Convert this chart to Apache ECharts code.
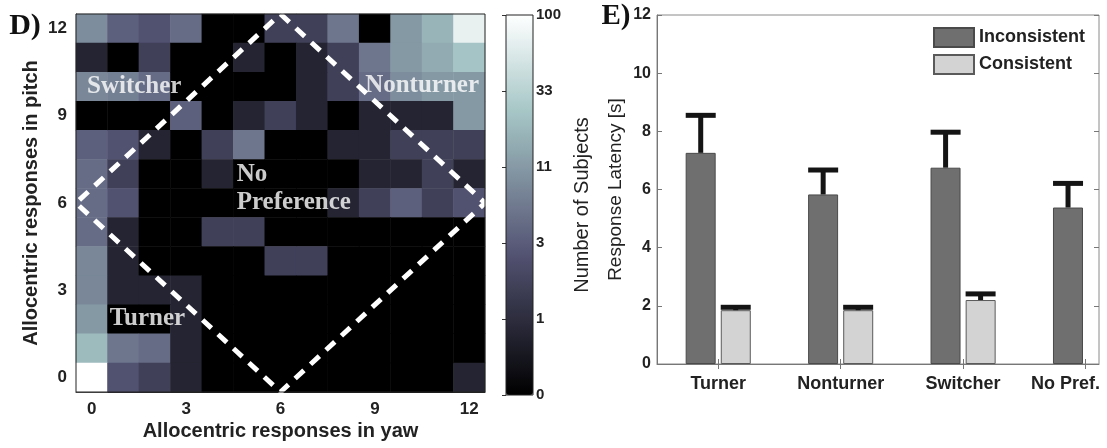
<!DOCTYPE html>
<html><head><meta charset="utf-8">
<script src="https://cdn.jsdelivr.net/npm/echarts@6/dist/echarts.min.js"></script>
<style>html,body{margin:0;padding:0;background:#fff}#c{width:1107px;height:448px}</style>
</head><body><div id="c"></div>
<script>
// ---------- Panel D: heatmap (number of subjects) ----------
const yawCategories = ['0','1','2','3','4','5','6','7','8','9','10','11','12'];
const pitchCategories = ['0','1','2','3','4','5','6','7','8','9','10','11','12'];
// counts per yaw (0..12) for each pitch row
const pitch12 = [9, 4, 3, 5, 0, 0, 2, 2, 6, 0, 11, 18, 70];
const pitch11 = [1, 0, 2, 0, 0, 1, 0, 1, 2, 6, 11, 15, 24];
const pitch10 = [8, 7, 5, 0, 0, 0, 0, 1, 2, 5, 9, 11, 11];
const pitch9  = [0, 0, 0, 4, 0, 1, 2, 1, 0, 1, 1, 1, 11];
const pitch8  = [4, 3, 1, 0, 2, 6, 0, 0, 1, 1, 2, 2, 2];
const pitch7  = [5, 2, 0, 0, 1, 0, 0, 0, 0, 1, 1, 2, 1];
const pitch6  = [5, 3, 0, 0, 0, 0, 0, 0, 1, 2, 4, 2, 3];
const pitch5  = [5, 1, 0, 0, 2, 2, 0, 0, 0, 0, 0, 0, 0];
const pitch4  = [8, 1, 0, 0, 0, 0, 2, 2, 0, 0, 0, 0, 0];
const pitch3  = [8, 1, 1, 1, 0, 0, 0, 0, 0, 0, 0, 0, 0];
const pitch2  = [11, 0, 0, 1, 0, 0, 0, 0, 0, 0, 0, 0, 0];
const pitch1  = [20, 6, 5, 1, 0, 0, 0, 0, 0, 0, 0, 0, 0];
const pitch0  = [100, 3, 2, 1, 0, 0, 0, 0, 0, 0, 0, 0, 1];
const colorbarTicks = ['0', '1', '3', '11', '33', '100'];
// region boundary (yaw, pitch) and region names
const diamondVertices = [[6, 12.5], [12.5, 6], [6, -0.5], [-0.5, 6], [6, 12.5]];
const regionNames = ['Switcher', 'Nonturner', 'No\nPreference', 'Turner'];
const regionYaw = [1.35, 10.5, 4.59, 1.77];
const regionPitch = [10.0, 10.05, 6.48, 2.04];

// ---------- Panel E: response latency ----------
const groups = ['Turner', 'Nonturner', 'Switcher', 'No Pref.'];
const inconsistentMean = [7.26, 5.83, 6.75, 5.38];
const inconsistentUpper = [8.55, 6.67, 7.97, 6.21];
const consistentMean = [1.85, 1.85, 2.2, null];
const consistentUpper = [1.95, 1.95, 2.41, null];

// ---------- build ----------
const rowsTopDown = [pitch12, pitch11, pitch10, pitch9, pitch8, pitch7, pitch6, pitch5, pitch4, pitch3, pitch2, pitch1, pitch0];
function level(c) { return c <= 0 ? 0 : Math.max(0, Math.log(c / 100) / Math.log(3) + 5); }
const heatData = [];
rowsTopDown.forEach((row, r) => {
  const p = rowsTopDown.length - 1 - r;
  row.forEach((c, y) => heatData.push([y, p, level(c)]));
});
const bone = ['#000000','#1c1c27','#38384d','#545474','#707a8f','#8ba1ab','#a7c7c7','#d3e3e3','#ffffff'];

function errSeries(mean, upper, offset) {
  const data = [];
  groups.forEach((g, i) => { if (mean[i] != null) data.push([i + 1, mean[i], upper[i]]); });
  return {
    type: 'custom', xAxisIndex: 3, yAxisIndex: 3, z: 10, data: data,
    renderItem: function (params, api) {
      const p0 = api.coord([api.value(0), api.value(1)]);
      const p1 = api.coord([api.value(0), api.value(2)]);
      const cx = p0[0] + offset;
      return { type: 'group', children: [
        { type: 'line', shape: { x1: cx, y1: p0[1], x2: cx, y2: p1[1] }, style: { stroke: '#141414', lineWidth: 5 } },
        { type: 'line', shape: { x1: cx - 15, y1: p1[1], x2: cx + 15, y2: p1[1] }, style: { stroke: '#141414', lineWidth: 5 } }
      ]};
    }
  };
}

const tickFont = { color: '#222', fontWeight: 'bold', fontFamily: 'Liberation Sans, Arial, sans-serif' };
const chart = echarts.init(document.getElementById('c'), null, { renderer: 'canvas' });
chart.setOption({
  animation: false,
  backgroundColor: '#fff',
  graphic: [
    { type: 'text', x: 25, y: 26, style: { text: 'D)', font: 'bold 30px "Liberation Serif", serif', fill: '#111', textAlign: 'center', textVerticalAlign: 'middle' } },
    { type: 'text', x: 616, y: 17, style: { text: 'E)', font: 'bold 29px "Liberation Serif", serif', fill: '#111', textAlign: 'center', textVerticalAlign: 'middle' } }
  ],
  grid: [
    { left: 76, top: 14, width: 409, height: 378, outerBoundsMode: 'none', show: true, borderColor: '#222', borderWidth: 1, z: 8 },
    { left: 76, top: 14, width: 409, height: 378, outerBoundsMode: 'none' },
    { left: 506, top: 15, width: 27, height: 380, outerBoundsMode: 'none', show: true, borderColor: '#222', borderWidth: 1, z: 8 },
    { left: 657, top: 15, width: 442, height: 349, outerBoundsMode: 'none', show: true, borderColor: '#8a8a8a', borderWidth: 1 }
  ],
  xAxis: [
    { gridIndex: 0, type: 'category', data: yawCategories, boundaryGap: true,
      axisLine: { lineStyle: { color: '#222' } }, axisTick: { show: false },
      axisLabel: Object.assign({ interval: 2, fontSize: 17, margin: 9 }, tickFont),
      name: 'Allocentric responses in yaw', nameLocation: 'middle', nameGap: 29, nameMoveOverlap: false,
      nameTextStyle: { fontSize: 20, fontWeight: 'bold', color: '#222', fontFamily: 'Liberation Sans, Arial, sans-serif' } },
    { gridIndex: 1, type: 'value', min: -0.5, max: 12.5, show: false },
    { gridIndex: 2, type: 'value', min: 0, max: 1, show: false },
    { gridIndex: 3, type: 'value', min: 0.5, max: 4.11, splitLine: { show: false },
      axisLine: { lineStyle: { color: '#777' } },
      axisTick: { customValues: [1, 2, 3, 4], inside: true, length: 5, lineStyle: { color: '#777' } },
      axisLabel: Object.assign({ customValues: [1, 2, 3, 4], fontSize: 18, margin: 11,
        formatter: function (v) { const i = Math.round(v) - 1; return i === groups.length - 1 ? '{shift|' + groups[i] + '}' : groups[i]; },
        rich: { shift: { padding: [0, 40, 0, 0], fontSize: 18, fontWeight: 'bold', color: '#222', fontFamily: 'Liberation Sans, Arial, sans-serif' } } }, tickFont) },
    { gridIndex: 3, type: 'value', min: 0.5, max: 4.11, position: 'top', splitLine: { show: false },
      axisLine: { show: false }, axisLabel: { show: false },
      axisTick: { customValues: [1, 2, 3, 4], inside: true, length: 5, lineStyle: { color: '#777' } } }
  ],
  yAxis: [
    { gridIndex: 0, type: 'category', data: pitchCategories, boundaryGap: true,
      axisLine: { lineStyle: { color: '#222' } }, axisTick: { show: false },
      axisLabel: Object.assign({ interval: 2, fontSize: 17, margin: 9 }, tickFont),
      name: 'Allocentric responses in pitch', nameLocation: 'middle', nameGap: 35, nameMoveOverlap: false,
      nameTextStyle: { fontSize: 20, fontWeight: 'bold', color: '#222', fontFamily: 'Liberation Sans, Arial, sans-serif' } },
    { gridIndex: 1, type: 'value', min: -0.5, max: 12.5, show: false },
    { gridIndex: 2, type: 'value', min: 0, max: 5, interval: 1, position: 'right', splitLine: { show: false },
      axisLine: { show: false }, axisTick: { inside: true, length: 4, lineStyle: { color: '#333' } },
      axisLabel: Object.assign({ fontSize: 15, margin: 3, formatter: function (v) { return colorbarTicks[Math.round(v)]; } }, tickFont),
      name: 'Number of Subjects', nameLocation: 'middle', nameRotate: 90, nameGap: 39, nameMoveOverlap: false,
      nameTextStyle: { fontSize: 20, color: '#222', fontFamily: 'Liberation Sans, Arial, sans-serif' } },
    { gridIndex: 3, type: 'value', min: 0, max: 12, interval: 2, splitLine: { show: false },
      axisLine: { lineStyle: { color: '#777' } }, axisTick: { inside: true, length: 5, lineStyle: { color: '#777' } },
      axisLabel: Object.assign({ fontSize: 16, margin: 6 }, tickFont),
      name: 'Response Latency [s]', nameLocation: 'middle', nameGap: 32, nameMoveOverlap: false,
      nameTextStyle: { fontSize: 19, color: '#222', fontFamily: 'Liberation Sans, Arial, sans-serif' } },
    { gridIndex: 3, type: 'value', min: 0, max: 12, interval: 2, position: 'right', splitLine: { show: false },
      axisLine: { show: false }, axisLabel: { show: false },
      axisTick: { inside: true, length: 5, lineStyle: { color: '#777' } } }
  ],
  visualMap: {
    type: 'continuous', min: 0, max: 5, seriesIndex: 0, dimension: 2, calculable: false, hoverLink: false,
    inRange: { color: bone }, left: 506, top: 15, itemWidth: 27, itemHeight: 380, padding: 0, text: null
  },
  legend: {
    data: ['Inconsistent', 'Consistent'], orient: 'vertical', left: 928, top: 22, padding: 5,
    itemWidth: 40, itemHeight: 19, itemGap: 6, icon: 'rect',
    textStyle: { fontSize: 18, fontWeight: 'bold', color: '#222', fontFamily: 'Liberation Sans, Arial, sans-serif' }
  },
  series: [
    { type: 'heatmap', xAxisIndex: 0, yAxisIndex: 0, data: heatData, emphasis: { disabled: true } },
    { type: 'line', xAxisIndex: 1, yAxisIndex: 1, data: diamondVertices, showSymbol: false, clip: false, z: 5,
      lineStyle: { color: '#ffffff', width: 5, type: [12, 9] } },
    { type: 'scatter', xAxisIndex: 1, yAxisIndex: 1, symbolSize: 1, z: 6, itemStyle: { color: 'rgba(0,0,0,0)' },
      data: regionNames.map(function (n, i) {
        const d = { name: n, value: [regionYaw[i], regionPitch[i]] };
        if (n.indexOf('\n') >= 0) d.label = { position: 'right', distance: 0, align: 'left' };
        return d;
      }),
      label: { show: true, position: 'inside', formatter: '{b}', color: '#fff', fontSize: 25, lineHeight: 28,
        fontWeight: 'bold', fontFamily: 'Liberation Serif, serif' } },
    { name: 'Inconsistent', type: 'bar', xAxisIndex: 3, yAxisIndex: 3, barWidth: 30, barGap: '17%',
      itemStyle: { color: '#6f6f6f', borderColor: '#4a4a4a', borderWidth: 1 },
      data: groups.map(function (g, i) { return [i + 1, inconsistentMean[i]]; }) },
    { name: 'Consistent', type: 'bar', xAxisIndex: 3, yAxisIndex: 3, barWidth: 30, barGap: '17%',
      itemStyle: { color: '#d3d3d3', borderColor: '#5a5a5a', borderWidth: 1 },
      data: groups.map(function (g, i) { return [i + 1, consistentMean[i]]; }) },
    errSeries(inconsistentMean, inconsistentUpper, -17.5),
    errSeries(consistentMean, consistentUpper, 17.5)
  ]
});
</script></body></html>
